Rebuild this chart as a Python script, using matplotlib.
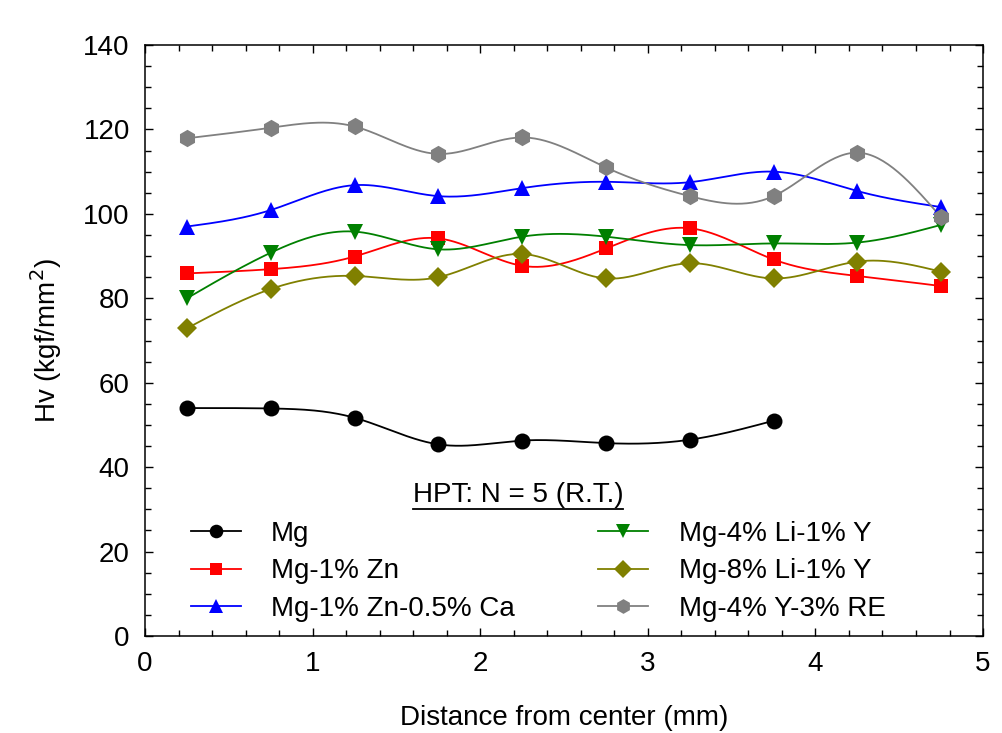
import numpy as np
import matplotlib
matplotlib.use("Agg")
import matplotlib.pyplot as plt
from matplotlib.lines import Line2D
from matplotlib.ticker import MultipleLocator

plt.rcParams['font.family'] = ['Liberation Sans', 'DejaVu Sans']

x_full = [0.25, 0.75, 1.25, 1.75, 2.25, 2.75, 3.25, 3.75, 4.25, 4.75]
x_mg = [0.25, 0.75, 1.25, 1.75, 2.25, 2.75, 3.25, 3.75]

mg = [54.0, 53.9, 51.7, 45.4, 46.3, 45.7, 46.5, 51.0]
mg_zn = [85.9, 86.9, 89.9, 94.2, 87.7, 91.8, 96.6, 89.2, 85.3, 82.9]
mg_zn_ca = [97.0, 100.9, 106.8, 104.2, 106.1, 107.6, 107.5, 110.0, 105.4, 101.6]
mg_4li_y = [80.0, 90.8, 95.8, 91.6, 94.6, 94.6, 92.6, 93.0, 93.2, 97.4]
mg_8li_y = [72.9, 82.2, 85.3, 85.0, 90.5, 84.7, 88.3, 84.7, 88.7, 86.3]
mg_y_re = [117.9, 120.4, 120.7, 114.2, 118.1, 111.0, 104.2, 104.2, 114.5, 99.2]

labels = ["Mg", "Mg-1% Zn", "Mg-1% Zn-0.5% Ca",
          "Mg-4% Li-1% Y", "Mg-8% Li-1% Y", "Mg-4% Y-3% RE"]
colors = ["#000000", "#ff0000", "#0000ff", "#008000", "#808000", "#808080"]
markers = ["o", "s", "^", "v", "D", "h"]
msizes = [11.5, 10.5, 12, 12, 10.5, 12.5]

FS = 20


def natural_spline(x, y, n=300):
    x = np.asarray(x, float)
    y = np.asarray(y, float)
    k = len(x)
    h = np.diff(x)
    A = np.zeros((k, k))
    b = np.zeros(k)
    A[0, 0] = 1
    A[-1, -1] = 1
    for i in range(1, k - 1):
        A[i, i - 1] = h[i - 1]
        A[i, i] = 2 * (h[i - 1] + h[i])
        A[i, i + 1] = h[i]
        b[i] = 3 * ((y[i + 1] - y[i]) / h[i] - (y[i] - y[i - 1]) / h[i - 1])
    c = np.linalg.solve(A, b)
    xs = np.linspace(x[0], x[-1], n)
    ys = np.empty_like(xs)
    for j, xv in enumerate(xs):
        i = min(np.searchsorted(x, xv, side='right') - 1, k - 2)
        i = max(i, 0)
        dx = xv - x[i]
        bi = (y[i + 1] - y[i]) / h[i] - h[i] * (2 * c[i] + c[i + 1]) / 3
        di = (c[i + 1] - c[i]) / (3 * h[i])
        ys[j] = y[i] + bi * dx + c[i] * dx ** 2 + di * dx ** 3
    return xs, ys


fig = plt.figure(figsize=(10.03, 7.33), dpi=100)
ax = fig.add_axes([0.1446, 0.1323, 0.8355, 0.8063])

series = [(x_mg, mg), (x_full, mg_zn), (x_full, mg_zn_ca),
          (x_full, mg_4li_y), (x_full, mg_8li_y), (x_full, mg_y_re)]

handles = []
for (xx, yy), lab, col, mk, ms in zip(series, labels, colors, markers, msizes):
    xs, ys = natural_spline(xx, yy)
    ax.plot(xs, ys, color=col, lw=1.3, zorder=2)
    ax.plot(xx, yy, linestyle='none', marker=mk, color=col, markersize=ms,
            markeredgewidth=0, zorder=3)
    handles.append(Line2D([], [], color=col, lw=1.3, marker=mk,
                          markersize=ms * 0.85, markeredgewidth=0))

ax.set_xlim(0, 5)
ax.set_ylim(0, 140)
ax.xaxis.set_major_locator(MultipleLocator(1))
ax.xaxis.set_minor_locator(MultipleLocator(0.2))
ax.yaxis.set_major_locator(MultipleLocator(20))
ax.yaxis.set_minor_locator(MultipleLocator(5))
ax.tick_params(which='both', direction='in', top=True, right=True,
               labelsize=FS, width=1.0, pad=11)
ax.tick_params(which='major', length=5.5)
ax.tick_params(which='minor', length=4.5)
for sp in ax.spines.values():
    sp.set_linewidth(1.1)

ax.set_xlabel("Distance from center (mm)", fontsize=FS, labelpad=20)
ax.set_ylabel("Hv (kgf/mm$^2$)", fontsize=FS, labelpad=14)

leg = ax.legend(handles, labels, ncol=2, frameon=False, fontsize=FS,
                loc='lower left', bbox_to_anchor=(0.041, 0.005),
                handlelength=1.8, handletextpad=1.1, columnspacing=3.0,
                labelspacing=0.42, borderaxespad=0.0)

t = ax.text(0.445, 0.216, "HPT: N = 5 (R.T.)", transform=ax.transAxes,
            fontsize=FS, ha='center', va='bottom')
fig.canvas.draw()
r = fig.canvas.get_renderer()
bb = t.get_window_extent(renderer=r)
inv = fig.transFigure.inverted()
(x0, y0) = inv.transform((bb.x0, bb.y0 - 1))
(x1, _) = inv.transform((bb.x1, bb.y0 - 1))
fig.add_artist(Line2D([x0, x1], [y0, y0], color='black', lw=1.3,
                      transform=fig.transFigure))

fig.savefig("out.png", dpi=100)
